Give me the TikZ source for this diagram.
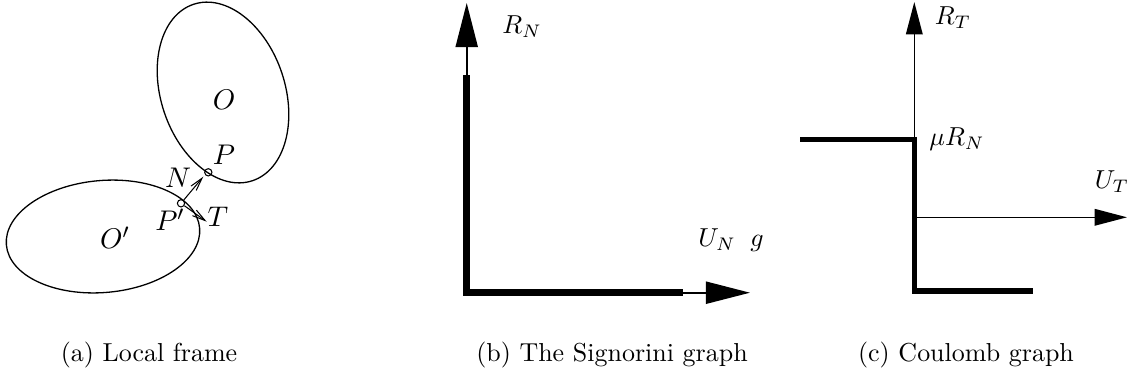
\documentclass[tikz,border=0pt]{standalone}
\usetikzlibrary{arrows.meta}

\begin{document}
\begin{tikzpicture}[
  x=0.385pt, y=0.385pt,
  body/.style={draw=black, line width=0.5pt},
  cpoint/.style={circle, draw, inner sep=0pt, minimum size=2.8pt, line width=0.4pt},
  vec/.style={-{Straight Barb[length=5pt,width=2.6pt]}, line width=0.4pt},
  axisb/.style={-{Triangle[length=17pt,width=8.5pt]}, line width=0.8pt},
  axisc/.style={-{Triangle[length=12.5pt,width=6.4pt]}, line width=0.6pt},
  graphb/.style={line width=2.7pt, line join=miter},
  graphc/.style={line width=2.1pt, line join=miter},
  laba/.style={font=\fontsize{11}{13}\selectfont, inner sep=0pt},
  labbc/.style={font=\fontsize{10.2}{12}\selectfont, inner sep=0pt},
  capt/.style={font=\fontsize{10}{12}\selectfont, inner sep=0pt}
]
\path[use as bounding box] (0,0) rectangle (1137,379);

% (a) local frame
\draw[body, rotate around={18.5:(223,286.5)}] (223,286.5) ellipse [x radius=62, y radius=93];
\draw[body, rotate around={5:(103,142.5)}] (103,142.5) ellipse [x radius=97, y radius=56];
\node[cpoint] (pP) at (208.3,206.7) {};
\node[cpoint] (pPp) at (181,175.7) {};
\coordinate (nTip) at (203.3,202.3);
\coordinate (tTip) at (206.7,157.3);
\draw[vec] (pPp) -- (nTip);
\draw[vec] (pPp) -- (tTip);
\node[laba] (labO) at (224,279) {$O$};
\node[laba] (labOp) at (115,141) {$O'$};
\node[laba] (labP) at (224,224) {$P$};
\node[laba] (labPp) at (170,159) {$P'$};
\node[laba] (labN) at (178,201) {$N$};
\node[laba] (labT) at (218,162) {$T$};

% (b) Signorini graph
\coordinate (sO) at (466.7,86.3);
\coordinate (sY) at (466.7,376);
\coordinate (sX) at (750,86.3);
\draw[axisb] (sO) -- (sY);
\draw[axisb] (sO) -- (sX);
\draw[graphb] (466.7,304) -- (sO) -- (683,86.3);
\node[labbc] (labRN) at (522,352) {$R_N$};
\node[labbc] (labUN) at (731,139) {$U_N\;\;g$};

% (c) Coulomb graph
\coordinate (cO) at (914.3,161.7);
\coordinate (cY) at (914.3,377);
\coordinate (cX) at (1127,161.7);
\coordinate (cTop) at (914.3,239.7);
\draw[axisc] (cTop) -- (cY);
\draw[axisc] (cO) -- (cX);
\draw[graphc] (800,239.7) -- (cTop) -- (914.3,88) -- (1033,88);
\node[labbc] (labRT) at (953,361) {$R_T$};
\node[labbc] (labMu) at (957,240) {$\mu R_N$};
\node[labbc] (labUT) at (1112,197) {$U_T$};

% captions
\node[capt] (captA) at (149,24) {(a) Local frame};
\node[capt] (captB) at (612,24) {(b) The Signorini graph};
\node[capt] (captC) at (966,24) {(c) Coulomb graph};
\end{tikzpicture}
\end{document}
